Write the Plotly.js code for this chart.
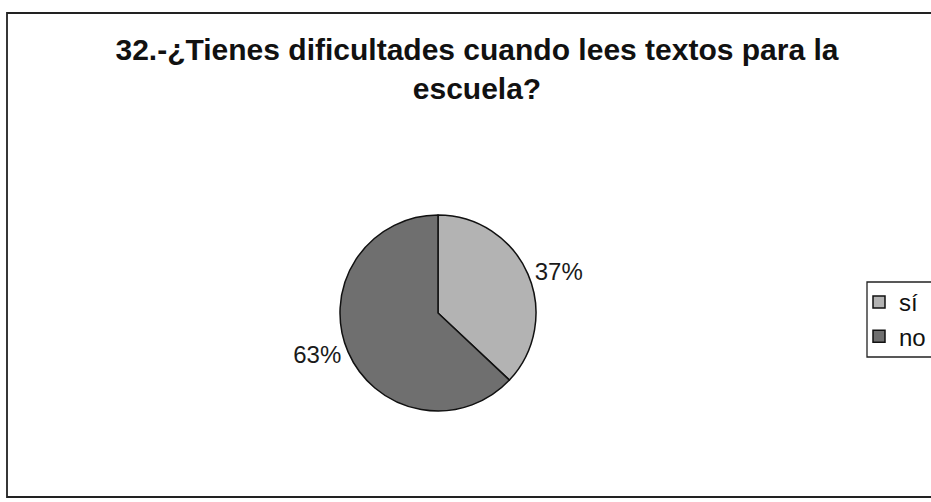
<!DOCTYPE html>
<html>
<head>
<meta charset="utf-8">
<script src="https://cdn.plot.ly/plotly-3.0.1.min.js"></script>
<style>html,body{margin:0;padding:0;background:#fff;}#chart{width:931px;height:502px;}</style>
</head>
<body>
<div id="chart"></div>
<script>
const categories = ["sí", "no"];
const values = [37, 63];
const sliceLabels = ["37%", "63%"];
const colors = ["#b3b3b3", "#6f6f6f"];
const chartTitle = "32.-¿Tienes dificultades cuando lees textos para la<br>escuela?";

const W = 931, H = 502;
const cx = 438, cy = 313, r = 98;

const trace = {
  type: "pie",
  labels: categories,
  values: values,
  text: sliceLabels,
  textinfo: "text",
  textposition: "outside",
  sort: false,
  direction: "clockwise",
  rotation: 0,
  marker: { colors: colors, line: { color: "#111", width: 1.5 } },
  textfont: { family: "Liberation Sans, Arial, sans-serif", size: 24, color: "#1a1a1a" },
  outsidetextfont: { family: "Liberation Sans, Arial, sans-serif", size: 24, color: "#1a1a1a" },
  automargin: false,
  domain: { x: [(cx - r) / W, (cx + r) / W], y: [1 - (cy + r) / H, 1 - (cy - r) / H] },
  hoverinfo: "none"
};

const layout = {
  width: W, height: H,
  margin: { l: 0, r: 0, t: 0, b: 0 },
  paper_bgcolor: "#fff",
  font: { family: "Liberation Sans, Arial, sans-serif", color: "#111" },
  title: {
    text: chartTitle,
    font: { family: "Liberation Sans, Arial, sans-serif", size: 30, color: "#111", weight: "bold" },
    x: 477 / W, xanchor: "center", xref: "paper",
    y: 1 - 60 / H, yanchor: "top", yref: "paper"
  },
  showlegend: true,
  legend: {
    x: 1, xanchor: "right",
    y: 1 - 280 / H, yanchor: "top",
    borderwidth: 0,
    bgcolor: "rgba(0,0,0,0)",
    font: { family: "Liberation Sans, Arial, sans-serif", size: 24, color: "#111" },
    itemwidth: 30
  },
  shapes: [
    {
      type: "rect", xref: "paper", yref: "paper",
      x0: 7 / W, x1: 1.02, y0: 1 - 497 / H, y1: 1 - 13 / H,
      line: { color: "#222", width: 1.8 }, fillcolor: "rgba(0,0,0,0)", layer: "below"
    },
    {
      type: "rect", xref: "paper", yref: "paper",
      x0: 867 / W, x1: 1.02, y0: 1 - 357 / H, y1: 1 - 282 / H,
      line: { color: "#222", width: 1.3 }, fillcolor: "#fff", layer: "below"
    }
  ]
};

Plotly.newPlot("chart", [trace], layout, { displayModeBar: false, staticPlot: true });
</script>
</body>
</html>
